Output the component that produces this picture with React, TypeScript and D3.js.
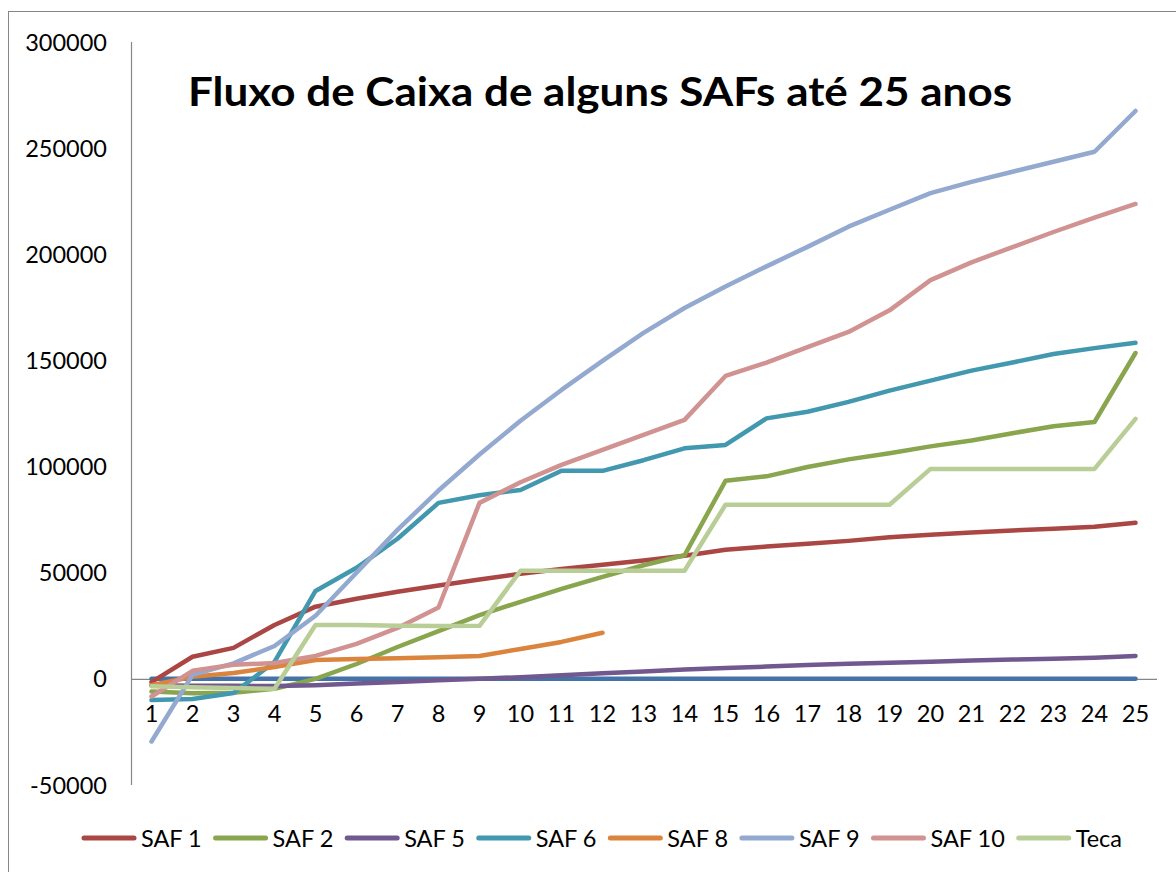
import React from "react";
import * as d3 from "d3";

const years = d3.range(1, 26);
const yTicks = [-50000, 0, 50000, 100000, 150000, 200000, 250000, 300000];

const hidden = [0,0,0,0,0,0,0,0,0,0,0,0,0,0,0,0,0,0,0,0,0,0,0,0,0];
const saf1 = [-1500, 10400, 14600, 25400, 34000, 37700, 41000, 44000, 46800, 49500, 51800, 53800, 55800, 58000, 60800, 62300, 63600, 65000, 66700, 67900, 68900, 69900, 70700, 71600, 73500];
const saf2 = [-6000, -6800, -6500, -4700, 0, 7000, 15000, 22500, 30000, 36300, 42400, 48000, 53500, 58200, 93300, 95400, 99800, 103400, 106300, 109500, 112300, 115700, 119000, 121000, 153500];
const saf5 = [-3000, -3200, -3300, -3400, -3000, -2200, -1500, -700, 0, 800, 1700, 2600, 3500, 4400, 5100, 5800, 6500, 7100, 7600, 8100, 8600, 9100, 9500, 10000, 10800];
const saf6 = [-10000, -9500, -6700, 8000, 41400, 52300, 66000, 82900, 86500, 89000, 98000, 98000, 103000, 108600, 110200, 122700, 125800, 130500, 135800, 140500, 145200, 149000, 153000, 155800, 158300];
const saf8 = [-3000, 1000, 2800, 5600, 8900, 9300, 9700, 10200, 10800, 14100, 17400, 21700];
const saf9 = [-29500, 1900, 7300, 15500, 29700, 50000, 70200, 88700, 105700, 121600, 136100, 149800, 163000, 174700, 184800, 194300, 203500, 213000, 221000, 228800, 234100, 238900, 243600, 248300, 267500];
const saf10 = [-8300, 3800, 6600, 7500, 10800, 16500, 24000, 33600, 82900, 92600, 100800, 107900, 114900, 122000, 142700, 149000, 156300, 163400, 173600, 187800, 196200, 203400, 210500, 217300, 223700];
const teca = [-3500, -4000, -4300, -4700, 25400, 25400, 25000, 24900, 25000, 50900, 50900, 50900, 50900, 50900, 82000, 82000, 82000, 82000, 82000, 98900, 98900, 98900, 98900, 98900, 122500];

const seriesNames = ["", "SAF 1", "SAF 2", "SAF 5", "SAF 6", "SAF 8", "SAF 9", "SAF 10", "Teca"];
const seriesValues = [hidden, saf1, saf2, saf5, saf6, saf8, saf9, saf10, teca];
const seriesColors = ["#4572A7", "#AA4643", "#89A54E", "#71588F", "#4198AF", "#DB843D", "#93A9CF", "#D19392", "#B9CD96"];
const inLegend = [false, true, true, true, true, true, true, true, true];

const title = "Fluxo de Caixa de alguns SAFs até 25 anos";
const FONT = "Lato, Calibri, 'Open Sans', sans-serif";

function measure(text: string, size: number, weight = "normal") {
  const c = document.createElement("canvas").getContext("2d");
  if (!c) return text.length * size * 0.5;
  c.font = `${weight} ${size}px Lato`;
  return c.measureText(text).width;
}

export default function App() {
  const W = 1176, H = 872;
  const x = d3.scaleBand<number>().domain(years).range([131, 1156]);
  const cx = (d: number) => (x(d) as number) + x.bandwidth() / 2;
  const y = d3.scaleLinear().domain([-50000, 300000]).range([785, 42]);
  const line = d3.line<number>().x((_, i) => cx(years[i])).y((v) => y(v));

  // legend layout
  const legendItems = seriesNames.map((n, i) => ({ n, i })).filter((d) => inLegend[d.i]);
  const lineLen = 54, gap1 = 5, lsize = 23.5;
  const legStart = 82, legEnd = 1122;
  const widths = legendItems.map((d) => lineLen + gap1 + measure(d.n, lsize));
  const gap2 = (legEnd - legStart - d3.sum(widths)) / (legendItems.length - 1);
  let lx = legStart;
  const legendPos = legendItems.map((d, k) => {
    const pos = lx;
    lx += widths[k] + gap2;
    return { ...d, x: pos };
  });

  return (
    <svg width={W} height={H} style={{ position: "absolute", left: 0, top: 0, fontFamily: FONT }}>
      <rect x={0} y={0} width={W} height={H} fill="#fff" />
      <rect x={8.5} y={11.5} width={W + 20} height={H + 20} fill="none" stroke="#868686" strokeWidth={1} />
      {/* y axis */}
      <line x1={131.5} x2={131.5} y1={y(300000)} y2={y(-50000)} stroke="#868686" strokeWidth={1.2} />
      {yTicks.map((t) => (
        <text key={t} x={107} y={y(t) + 8.5} textAnchor="end" fontSize={23.5} fill="#000">
          {t}
        </text>
      ))}
      {/* x axis at zero */}
      <line x1={131} x2={1157} y1={y(0) + 0.5} y2={y(0) + 0.5} stroke="#868686" strokeWidth={1.2} />
      {years.map((d) => (
        <text key={d} x={cx(d)} y={722} textAnchor="middle" fontSize={23.5} fill="#000">
          {d}
        </text>
      ))}
      {/* series */}
      {seriesValues.map((vals, i) => (
        <path
          key={i}
          d={line(vals) || ""}
          fill="none"
          stroke={seriesColors[i]}
          strokeWidth={4.5}
          strokeLinejoin="round"
          strokeLinecap="round"
        />
      ))}
      {/* title */}
      <text x={600} y={106} textAnchor="middle" fontSize={40} fontWeight="bold" fill="#000" textLength={824} lengthAdjust="spacingAndGlyphs">
        {title}
      </text>
      {/* legend */}
      {legendPos.map((d) => (
        <g key={d.n} transform={`translate(${d.x},838)`}>
          <line x1={2} x2={lineLen - 2} y1={0} y2={0} stroke={seriesColors[d.i]} strokeWidth={5} strokeLinecap="round" />
          <text x={lineLen + gap1} y={8.5} fontSize={lsize} fill="#000">
            {d.n}
          </text>
        </g>
      ))}
    </svg>
  );
}
